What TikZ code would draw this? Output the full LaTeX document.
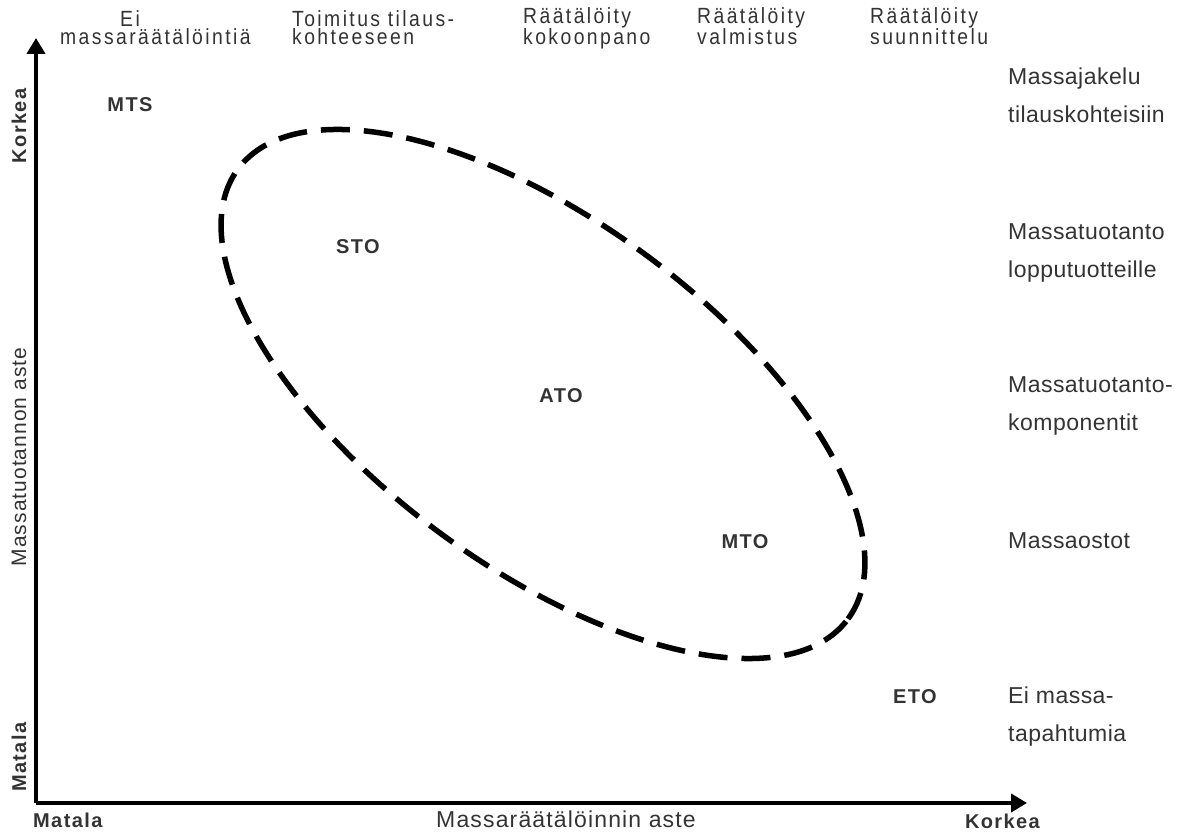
\documentclass[tikz,border=0pt]{standalone}
\usepackage{fontspec}
\setmainfont{Liberation Sans}
\newfontfamily\topfont{Liberation Sans}[FakeStretch=0.88,LetterSpace=11]
\newfontfamily\codefont{Liberation Sans}[LetterSpace=7]
\newfontfamily\rightfont{Liberation Sans}[LetterSpace=2]
\newfontfamily\namefont{Liberation Sans}[LetterSpace=5]
\usetikzlibrary{arrows.meta}
\definecolor{txt}{HTML}{333333}
\begin{document}
\begin{tikzpicture}[x=1pt,y=1pt,
  toplab/.style={anchor=base west,inner sep=0pt,align=left,text=txt,font=\topfont\fontsize{22}{18}\selectfont},
  rightlab/.style={anchor=base west,inner sep=0pt,align=left,text=txt,font=\rightfont\fontsize{23}{38}\selectfont},
  code/.style={anchor=base,inner sep=0pt,text=txt,font=\codefont\bfseries\fontsize{20}{22}\selectfont},
  axlab/.style={inner sep=0pt,text=txt,font=\codefont\bfseries\fontsize{20}{22}\selectfont},
  axname/.style={inner sep=0pt,text=txt,font=\namefont\fontsize{23}{24}\selectfont},
  yname/.style={inner sep=0pt,text=txt,font=\namefont\fontsize{21}{24}\selectfont},
  axis/.style={line width=4pt,-{Triangle[length=16pt,width=18pt]}},
  region/.style={line width=5.5pt,dash pattern=on 29pt off 14pt}]
\useasboundingbox (0,0) rectangle (1185,835);
% axes
\coordinate (O) at (36,32);
\coordinate (ytip) at (36,797);
\coordinate (xtip) at (1027,32);
\draw[axis] (O) -- (ytip);
\draw[axis] (O) -- (xtip);
% ellipse
\coordinate (C) at (543,441);
\draw[region,rotate around={-36.4:(C)}] (C) ellipse [x radius=379, y radius=173];
% top labels (base = last line)
\node[toplab] (t1) at (60,790) {\hspace*{60pt}Ei\\massaräätälöintiä};
\node[toplab] (t2) at (292,790) {Toimitus tilaus-\\kohteeseen};
\node[toplab] (t3) at (523,790) {Räätälöity\\kokoonpano};
\node[toplab] (t4) at (697,790) {Räätälöity\\valmistus};
\node[toplab] (t5) at (870,790) {Räätälöity\\suunnittelu};
% right labels (base = last line)
\node[rightlab] (r1) at (1008,712) {Massajakelu\\tilauskohteisiin};
\node[rightlab] (r2) at (1008,557) {Massatuotanto\\lopputuotteille};
\node[rightlab] (r3) at (1008,404) {Massatuotanto-\\komponentit};
\node[rightlab] (r4) at (1008,286) {Massaostot};
\node[rightlab] (r5) at (1008,93) {Ei massa-\\tapahtumia};
% codes
\node[code] (mts) at (130,723) {MTS};
\node[code] (sto) at (358,581) {STO};
\node[code] (ato) at (561,432) {ATO};
\node[code] (mto) at (745,286) {MTO};
\node[code] (eto) at (915,131) {ETO};
% axis labels
\node[axlab,anchor=base west] (xlo) at (33,8) {Matala};
\node[axname,anchor=base] (xname) at (566,8) {Massaräätälöinnin aste};
\node[axlab,anchor=base east] (xhi) at (1040,7) {Korkea};
\node[axlab,anchor=base,rotate=90] (yhi) at (26,709) {Korkea};
\node[yname,anchor=base,rotate=90] (yname) at (26,378) {Massatuotannon aste};
\node[axlab,anchor=base,rotate=90] (ylo) at (26,78) {Matala};
\end{tikzpicture}
\end{document}
